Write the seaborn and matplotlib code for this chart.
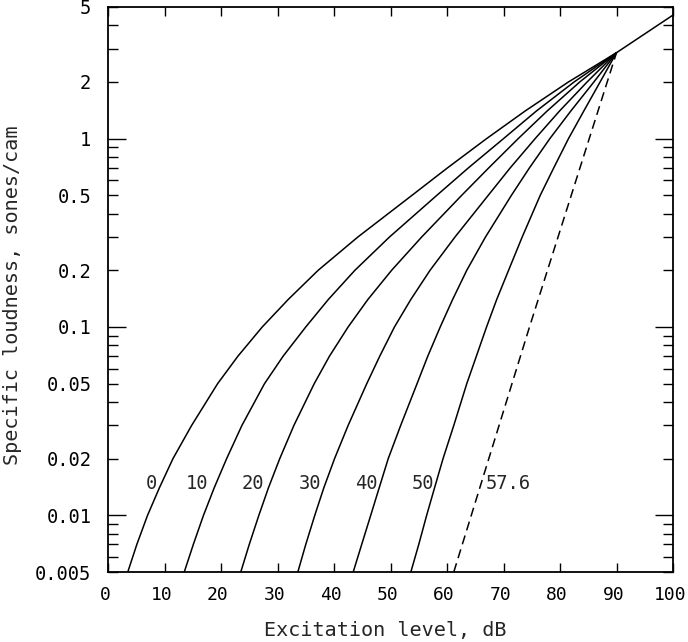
import matplotlib
matplotlib.use('Agg')
import matplotlib.pyplot as plt
import matplotlib.ticker as mticker
import matplotlib.transforms as mtrans
import numpy as np
import pandas as pd
import seaborn as sns

# specific loudness (sones/cam) at which each solid curve was read
loudness = [0.005, 0.007, 0.01, 0.014, 0.02, 0.03, 0.05, 0.07, 0.1,
            0.14, 0.2, 0.3, 0.5, 0.7, 1.0, 1.4, 2.0, 2.86]

# excitation level (dB) of each curve at those loudness values
curve_0 = [3.5, 5.1, 7.0, 9.1, 11.5, 14.8, 19.4, 23.0, 27.3,
           31.9, 37.2, 44.2, 53.8, 60.1, 67.0, 73.8, 81.5, 90.0]
curve_10 = [13.5, 15.1, 16.9, 18.8, 21.0, 23.7, 27.7, 31.0, 35.0,
            39.0, 43.7, 49.8, 58.2, 63.8, 70.0, 75.8, 82.5, 90.0]
curve_20 = [23.5, 25.0, 26.7, 28.4, 30.4, 32.9, 36.5, 39.2, 42.5,
            46.0, 50.2, 55.5, 62.6, 67.4, 72.6, 77.7, 83.5, 90.0]
curve_30 = [33.6, 35.0, 36.6, 38.2, 40.1, 42.5, 45.8, 48.1, 50.7,
            53.6, 57.0, 61.4, 67.3, 71.2, 75.6, 79.9, 84.8, 90.0]
curve_40 = [43.4, 44.9, 46.5, 48.0, 49.6, 51.8, 54.7, 56.6, 58.8,
            61.0, 63.5, 66.8, 71.4, 74.6, 78.2, 81.9, 86.0, 90.0]
curve_50 = [53.6, 55.0, 56.4, 57.8, 59.3, 61.2, 63.5, 65.2, 67.0,
            68.8, 70.9, 73.3, 76.5, 78.9, 81.5, 84.2, 87.1, 90.0]

# dashed curve (threshold 57.6 dB), nearly straight
dashed_level = [61.2, 74.6, 90.0]
dashed_loudness = [0.005, 0.1, 2.86]

# common part above 90 dB
top_level = [90.0, 100.0]
top_loudness = [2.86, 4.53]

labels = ['0', '10', '20', '30', '40', '50', '57.6']
label_x = [7.7, 15.8, 25.7, 35.7, 45.8, 55.7, 70.9]
label_y = 0.0147


def main():
    sns.set_theme(style='white')
    plt.rcParams['font.family'] = ['DejaVu Sans Mono']

    curves = [curve_0, curve_10, curve_20, curve_30, curve_40, curve_50]
    rows = []
    for lab, xs in zip(labels[:-1], curves):
        for x, y in zip(xs, loudness):
            rows.append({'curve': lab, 'level': x, 'loudness': y})
    df = pd.DataFrame(rows)

    fig = plt.figure(figsize=(6.88, 6.42), dpi=100)
    ax = fig.add_axes([108 / 688, 70 / 642, 565 / 688, 565 / 642])

    for lab in labels[:-1]:
        sub = df[df['curve'] == lab]
        sns.lineplot(data=sub, x='level', y='loudness', sort=False, estimator=None,
                     color='black', lw=1.1, ax=ax)
    sns.lineplot(x=dashed_level, y=dashed_loudness, sort=False, estimator=None,
                 color='black', lw=1.1, dashes=False, ax=ax)
    ax.lines[-1].set_dashes((6, 3.5))
    sns.lineplot(x=top_level, y=top_loudness, sort=False, estimator=None,
                 color='black', lw=1.1, ax=ax)

    for lab, x in zip(labels, label_x):
        ax.text(x, label_y, lab, ha='center', va='center', fontsize=13.5)

    ax.set_yscale('log')
    ax.set_xlim(0, 100)
    ax.set_ylim(0.005, 5)
    ax.set_xticks(np.arange(0, 101, 10))
    ax.yaxis.set_major_locator(mticker.FixedLocator([0.01, 0.1, 1]))
    ax.yaxis.set_minor_locator(mticker.LogLocator(base=10, subs=np.arange(2, 10)))
    ax.yaxis.set_major_formatter(mticker.FuncFormatter(lambda v, p: f'{v:g}'))

    def minor_fmt(v, p):
        m = v / 10 ** np.floor(np.log10(v) + 1e-9)
        if abs(m - 2) < 1e-6 or abs(m - 5) < 1e-6:
            return f'{v:g}'
        return ''
    ax.yaxis.set_minor_formatter(mticker.FuncFormatter(minor_fmt))

    ax.tick_params(axis='both', which='both', direction='in', top=True, right=True,
                   bottom=True, left=True, labelsize=13.5, color='black',
                   labelcolor='black')
    ax.tick_params(axis='x', which='major', length=6.5, width=1, pad=10, labelsize=13)
    ax.tick_params(axis='y', which='major', length=13, width=1, pad=12)
    ax.tick_params(axis='y', which='minor', length=7, width=1, pad=12)
    ax.tick_params(axis='x', which='minor', length=0)

    # x tick labels sit a little left of their ticks in the original
    shift = mtrans.ScaledTranslation(-3 / 100, 0, fig.dpi_scale_trans)
    for lbl in ax.get_xticklabels():
        lbl.set_transform(lbl.get_transform() + shift)

    for s in ax.spines.values():
        s.set_color('black')
        s.set_linewidth(1.3)

    ax.set_xlabel('Excitation level, dB', fontsize=14.5, labelpad=11)
    ax.set_ylabel('Specific loudness, sones/cam', fontsize=14.5)
    ax.xaxis.set_label_coords(0.49, -0.087)
    ax.yaxis.set_label_coords(-0.153, 0.49)

    fig.savefig('out.png', dpi=100)


if __name__ == '__main__':
    main()
